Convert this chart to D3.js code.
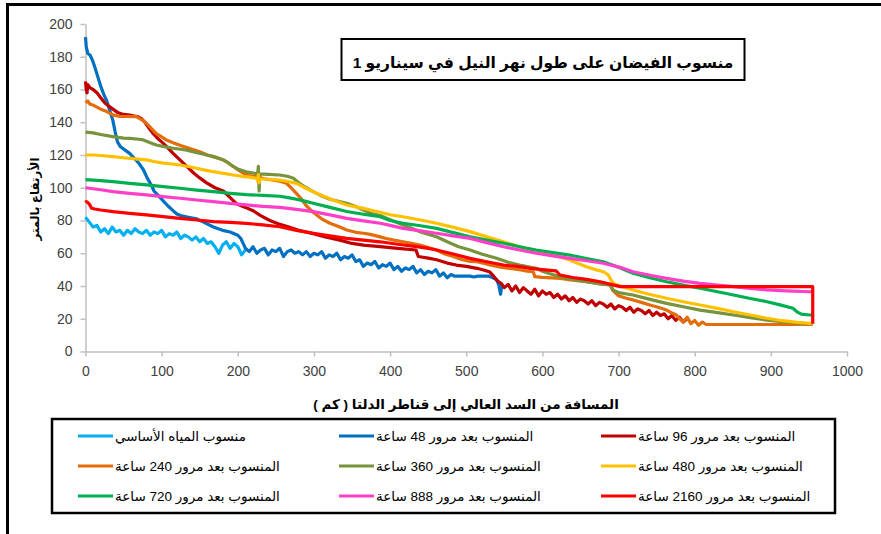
<!DOCTYPE html>
<html>
<head>
<meta charset="utf-8">
<script src="https://cdn.jsdelivr.net/npm/d3@7/dist/d3.min.js"></script>
<style>
  body { margin: 0; background: #ffffff; }
  svg { display: block; }
</style>
</head>
<body>
<svg id="chart" width="881" height="534"></svg>
<script>
// Flood levels along the Nile, scenario 1: [distance from the High Dam (km), level (m)]

const chartTitle = "منسوب الفيضان على طول نهر النيل في سيناريو 1";
const xTitle = "المسافة من السد العالي إلى قناطر الدلتا ( كم )";
const yTitle = "الأرتفاع بالمتر";

const xTicks = [0, 100, 200, 300, 400, 500, 600, 700, 800, 900, 1000];
const yTicks = [0, 20, 40, 60, 80, 100, 120, 140, 160, 180, 200];

const seriesNames = [
  "منسوب المياه الأساسي",
  "المنسوب بعد مرور 48 ساعة",
  "المنسوب بعد مرور 96 ساعة",
  "المنسوب بعد مرور 240 ساعة",
  "المنسوب بعد مرور 360 ساعة",
  "المنسوب بعد مرور 480 ساعة",
  "المنسوب بعد مرور 720 ساعة",
  "المنسوب بعد مرور 888 ساعة",
  "المنسوب بعد مرور 2160 ساعة"
];

const seriesColors = ["#00B0F0", "#0070C0", "#C00000", "#E46C0A", "#77933C",
                      "#FFC000", "#00B050", "#FF3FC8", "#FF0000"];

const levelBase = [[0,82],[5,79],[10,76],[15,77],[20,73],[25,75],[30,72],[35,76],[40,73],[45,74],
  [50,71],[55,74],[60,72],[65,75],[70,73],[75,72],[80,74],[85,71],[90,73],[95,72],[100,74],
  [105,70],[110,72],[115,71],[120,73],[125,69],[130,71],[135,70],[140,68],[145,70],[150,67],
  [155,69],[160,66],[165,67],[170,64],[175,60],[180,65],[185,67],[190,63],[195,66],[200,64],
  [205,59],[210,62]];

const level48 = [[0,192],[1,186],[3,182],[6,181],[9,178],[12,174],[16,168],[20,162],[24,157],
  [28,153],[32,147],[36,141],[39,134],[42,128],[46,125],[52,123],[58,121],[64,118],[70,115],
  [76,111],[81,106],[86,102],[90,98],[96,95],[102,92],[108,89],[115,86],[120,84],[125,83],
  [135,82],[146,81],[155,79],[168,76],[180,74],[190,73],[200,71],[204,69],[207,66],[210,63],
  [215,61],[220,64],[225,60],[230,62],[235,63],[240,59],[245,62],[250,61],[255,63],[260,58],
  [265,61],[270,62],[275,60],[280,61],[285,59],[290,61],[295,58],[300,60],[305,59],[310,61],
  [315,57],[320,59],[325,58],[330,60],[335,56],[340,58],[345,57],[350,59],[355,55],[360,56],
  [365,52],[370,54],[375,53],[380,55],[385,51],[390,53],[395,52],[400,54],[405,50],[410,52],
  [415,49],[420,51],[425,50],[430,52],[435,48],[440,50],[445,47],[450,49],[455,48],[460,50],
  [465,46],[470,48],[475,45],[480,47],[485,46],[490,46],[495,46],[500,46],[505,46],[510,45.5],
  [515,46],[520,46],[525,46],[530,46],[535,45],[540,44],[543,40],[545,35],[547,41]];

const level96 = [[0,165],[1,160],[2,158],[3,163],[6,161],[10,160],[15,158],[20,155],[25,152],
  [30,150],[36,148],[42,146],[48,145],[55,144.5],[62,144],[68,143.5],[74,142],[78,140],[84,136],
  [89,133],[95,130],[100,128],[107,125],[115,121],[124,117],[133,113],[142,109],[150,106],
  [159,103],[170,100],[181,98],[190,94],[199,90],[210,88],[220,86],[230,83],[242,80],[253,78],
  [264,76.5],[280,74],[299,72],[315,70],[334,68],[350,66],[365,65],[387,64],[410,63],[434,62],
  [437,58],[450,57],[461,56],[475,54],[487,52.8],[500,52],[514,50.8],[525,49.5],[531,48.5],
  [536,46],[540,43.5],[546,41.5],
  [550,39],[555,41],[560,37],[565,40],[570,36],[575,39],[580,37],[585,35],[590,38],[595,34],
  [600,37],[605,35],[610,36],[615,33],[620,35],[625,32],[630,34],[635,31],[640,33],[645,30],
  [650,32],[655,31],[660,29],[665,31],[670,28],[675,30],[680,29],[685,27],[690,29],[695,26],
  [700,28],[705,27],[710,25],[715,27],[720,24],[725,26],[730,25],[735,23],[740,25],[745,22],
  [750,24],[755,22],[760,23],[765,20],[770,22],[775,19],[780,21],[785,18],[790,20]];

const level240 = [[0,152],[3,153],[6,151],[10,150.5],[20,148],[28,146.5],[36,144.5],[45,143.5],
  [55,143.5],[67,143.4],[74,141.5],[80,139.4],[87,136],[93,133],[100,131],[107,129],[115,127.5],
  [124,126],[137,124],[150,122],[160,120],[168,119],[181,117],[188,115],[194,113],[200,111],
  [207,109],[215,107.5],[225,106.7],[235,105.5],[247,104.7],[255,104],[264,102.7],[270,100],
  [276,97],[282,94],[290,89],[299,85],[310,81],[321,78.3],[334,76],[343,74.2],[355,72.8],
  [365,72.2],[374,71.5],[387,70],[395,69],[405,68],[417,67],[428,66],[439,65],[450,63.5],
  [461,62],[472,59.5],[483,58],[495,56],[505,55],[514,54.8],[522,54],[531,52.8],[545,51.5],
  [557,50.8],[570,50],[580,49],[588,48.7],[590,45.7],[600,45.3],[612,45],[623,44.7],[640,43.5],
  [658,42.6],[675,41.5],[689,40.6],[693,37],[700,34],[710,32.5],[719,31.5],[730,30],[741,28.4],
  [752,27],[763,25.3],[770,23.5],[776,22.3],[780,20],[785,18],[790,21],[795,17],[800,19],
  [805,16],[810,18],[815,16.5],[825,16.5],[955,16.5]];

const level360 = [[0,134],[10,133.5],[20,132.5],[36,131.2],[50,130.3],[58,130.2],[70,129.6],
  [76,129.2],[85,127.5],[93,126.1],[105,125],[115,124.1],[125,123.5],[133,123],[145,121.5],
  [155,120.5],[168,119],[175,118],[181,117],[188,115],[194,113],[200,111.5],[211,109.8],
  [220,109],[226,108.5],[227,113],[228,98],[229,108.5],[240,108.2],[255,107.8],[265,107],
  [273,105.8],[280,103],[290,100],[299,97.6],[310,95],[321,93],[343,90.5],[355,88.5],
  [365,86.4],[374,84.4],[387,83],[400,80.5],[417,77.3],[430,75],[440,73],[461,70.1],[475,67],
  [490,64],[505,62],[520,59.5],[540,56.9],[555,54.5],[570,52.8],[580,51.8],[592,50.8],[600,49],
  [610,47.5],[623,45.7],[640,44],[658,42.6],[675,41.3],[689,40.6],[693,37.5],[700,36],
  [719,34.5],[740,32],[763,29.4],[785,27.3],[807,25.3],[830,23.7],[851,22.3],[873,20.7],
  [895,19.2],[915,18.2],[938,17.2],[955,16.8]];

const level480 = [[0,120],[10,120],[20,119.7],[36,119],[50,118.3],[65,117.6],[80,117],[90,116],
  [102,115],[113,114.5],[124,113.9],[135,113],[146,111.9],[157,110.8],[168,109.8],[181,108.8],
  [194,107.8],[205,107],[215,106.5],[225,105.8],[226,104],[227,108],[228,103],[229,105.5],
  [240,105.2],[255,104.7],[266,103.8],[277,102.7],[288,100],[299,97.6],[312,95],[325,92.5],
  [334,91],[343,89.5],[355,88.3],[365,87.4],[374,86.4],[387,85],[400,83.5],[417,82.3],
  [440,80.3],[461,78.3],[483,75.8],[505,73.2],[527,70],[549,67],[566,64.5],[584,62],[600,60.2],
  [614,58.9],[625,57.4],[636,55.9],[647,53.8],[658,51.8],[670,50],[680,48.7],[686,47],
  [689,44.7],[693,41.6],[705,39.5],[719,37.6],[740,35],[763,32.5],[785,30.4],[807,28.4],
  [830,26.3],[851,24.3],[873,22.3],[895,20.3],[915,18.8],[935,17.8],[951,17.2],[955,17]];

const level720 = [[0,105],[10,104.7],[20,104.4],[36,103.7],[58,102.7],[80,101.7],[102,100.7],
  [124,99.7],[146,98.6],[168,97.6],[190,96.6],[211,95.8],[233,95.3],[255,94.8],[266,94],
  [277,93],[288,91.8],[299,90.5],[321,88],[343,85.5],[365,83.8],[387,82.3],[400,80],[417,78.3],
  [440,76.8],[461,75.2],[483,72.6],[505,70.1],[527,68],[549,66.1],[570,64],[592,62],[614,60.4],
  [636,58.9],[658,56.8],[680,54.8],[700,51.5],[719,47.8],[741,45],[763,42.6],[785,40.5],
  [807,38.6],[830,36.5],[851,34.5],[873,32.4],[895,30.4],[912,28.5],[929,26.4],[935,24],
  [940,22.8],[951,22.3],[955,22.3]];

const level888 = [[0,100],[20,98.8],[36,97.6],[58,96.6],[80,95.6],[102,94.6],[124,93.6],
  [146,92.5],[168,91.5],[190,90.5],[211,89.5],[233,88.6],[255,88],[277,86.8],[299,85.4],
  [321,83.4],[343,81.3],[365,79.8],[387,78.3],[400,77],[417,75.2],[440,73.7],[461,72.2],
  [483,70.6],[505,69.1],[527,66.5],[549,64],[570,62],[592,60],[614,58.4],[636,56.9],[658,55.4],
  [680,53.9],[702,51.4],[719,48.7],[741,46.6],[763,44.7],[785,43],[807,41.6],[830,40.6],
  [851,39.6],[873,38.6],[895,37.6],[920,37],[951,36.5],[955,36.5]];

const level2160 = [[0,91],[1,91.5],[3,91],[5,90],[8,87.5],[12,87],[20,86.4],[36,85.4],[58,84.4],
  [80,83.4],[102,82.4],[124,81.3],[146,80.3],[168,79.3],[190,78.8],[211,78.3],[233,77.3],
  [255,76.2],[277,74],[299,72.2],[321,70.6],[343,69.1],[365,68],[387,67],[410,65.5],[435,64],
  [450,63],[461,62],[483,59.5],[505,56.9],[527,54.8],[549,52.8],[570,51.8],[584,50.8],[600,50],
  [618,49.2],[623,46.7],[640,45.2],[658,44],[676,42.6],[690,41],[702,39.6],[955,39.6],[955,17]];

const seriesLevels = [levelBase, level48, level96, level240, level360,
                      level480, level720, level888, level2160];

// ---------------------------------------------------------------------------

const svg = d3.select("#chart");
const latinFont = "'Liberation Sans Narrow', 'Liberation Sans', Arial, sans-serif";
const arabicFont = "'Liberation Sans', 'DejaVu Sans', sans-serif";

// outer frame
svg.append("rect")
  .attr("x", 7.5).attr("y", 4.5).attr("width", 1000).attr("height", 1000)
  .attr("fill", "none").attr("stroke", "#000").attr("stroke-width", 3);

const x = d3.scaleLinear().domain([0, 1000]).range([85.5, 847]);
const y = d3.scaleLinear().domain([0, 200]).range([351.5, 24]);

// axes
const axisColor = "#BFBFBF";
const gy = svg.append("g").attr("transform", `translate(${x(0)},0)`)
  .call(d3.axisLeft(y).tickValues(yTicks).tickFormat(d3.format("d"))
    .tickSize(5).tickSizeOuter(0).tickPadding(8));
const gx = svg.append("g").attr("transform", `translate(0,${y(0)})`)
  .call(d3.axisBottom(x).tickValues(xTicks).tickFormat(d3.format("d"))
    .tickSize(5).tickSizeOuter(0).tickPadding(10));
[gx, gy].forEach(g => {
  g.select(".domain").attr("stroke", axisColor).attr("stroke-width", 1.5);
  g.selectAll(".tick line").attr("stroke", axisColor).attr("stroke-width", 1.5);
  g.selectAll(".tick text").attr("fill", "#404040")
    .style("font-family", latinFont).style("font-size", "14px");
});

// series lines
const line = d3.line().x(d => x(d[0])).y(d => y(d[1]));
svg.append("g").selectAll("path")
  .data(seriesLevels)
  .join("path")
  .attr("d", line)
  .attr("fill", "none")
  .attr("stroke", (d, i) => seriesColors[i])
  .attr("stroke-width", 3.2)
  .attr("stroke-linejoin", "round")
  .attr("stroke-linecap", "butt");

// chart title in a box
svg.append("rect")
  .attr("x", 341.5).attr("y", 39).attr("width", 403).attr("height", 41)
  .attr("fill", "#fff").attr("stroke", "#000").attr("stroke-width", 2);
svg.append("text")
  .attr("x", 543).attr("y", 68)
  .attr("text-anchor", "middle")
  .attr("direction", "rtl")
  .style("font-family", arabicFont).style("font-size", "15.5px").style("font-weight", "bold")
  .text(chartTitle);

// axis titles
svg.append("text")
  .attr("x", 466).attr("y", 409)
  .attr("text-anchor", "middle")
  .attr("direction", "rtl")
  .style("font-family", arabicFont).style("font-size", "13.5px").style("font-weight", "bold")
  .text(xTitle);
svg.append("text")
  .attr("transform", "translate(39,199) rotate(-90)")
  .attr("text-anchor", "middle")
  .attr("direction", "rtl")
  .style("font-family", arabicFont).style("font-size", "12px").style("font-weight", "bold")
  .text(yTitle);

// legend
svg.append("rect")
  .attr("x", 52).attr("y", 419).attr("width", 783).attr("height", 94)
  .attr("fill", "#fff").attr("stroke", "#000").attr("stroke-width", 2.5);
const colX = [78, 339, 601];
const rowY = [436, 466, 496];
const items = svg.append("g").selectAll("g")
  .data(seriesNames)
  .join("g")
  .attr("transform", (d, i) => `translate(${colX[i % 3]},${rowY[Math.floor(i / 3)]})`);
items.append("line")
  .attr("x1", 0).attr("x2", 35).attr("y1", 0).attr("y2", 0)
  .attr("stroke", (d, i) => seriesColors[i]).attr("stroke-width", 3);
items.append("text")
  .attr("x", 37).attr("y", 4.5)
  .attr("direction", "rtl")
  .attr("text-anchor", "end")
  .style("font-family", arabicFont).style("font-size", "13.5px")
  .text(d => d);
</script>
</body>
</html>
